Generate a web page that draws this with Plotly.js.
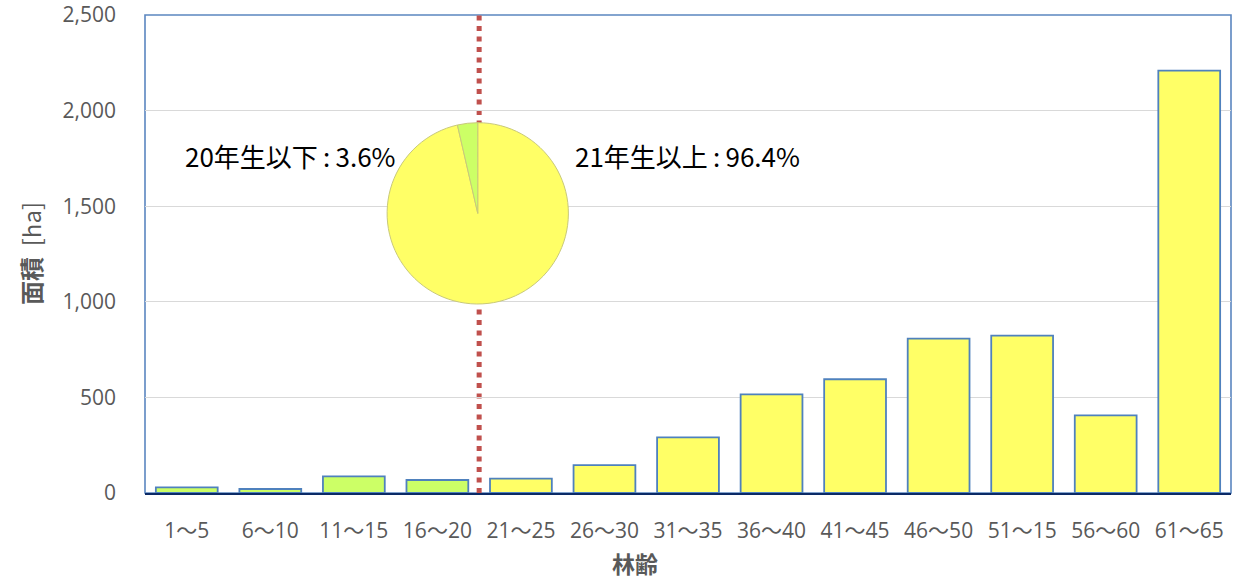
<!DOCTYPE html>
<html>
<head>
<meta charset="utf-8">
<script src="https://cdn.plot.ly/plotly-3.0.1.min.js"></script>
<style>
  html, body { margin: 0; padding: 0; background: #ffffff; }
  #chart { width: 1236px; height: 580px; }
</style>
</head>
<body>
<div id="chart"></div>
<script>
// 林齢別の面積 [ha]
const ageClasses = ['1～5', '6～10', '11～15', '16～20', '21～25', '26～30', '31～35',
                    '36～40', '41～45', '46～50', '51～15', '56～60', '61～65'];
const areaHa = [29, 21, 87, 68, 75, 146, 291, 516, 595, 807, 823, 406, 2209];

// 20年生以下の階級数（先頭から）
const youngClassCount = 4;

// 円グラフ：構成比 [%]
const shareLabels = ['21年生以上', '20年生以下'];
const shareValues = [96.4, 3.6];

const yTicks = [0, 500, 1000, 1500, 2000, 2500];

const YELLOW = '#FFFF66';
const GREEN = '#CCFF66';
const TICK_FONT = '"Open Sans", "Noto Sans CJK JP", sans-serif';
const CJK_FONT = '"Noto Sans CJK JP", "Noto Sans", sans-serif';

const barColors = ageClasses.map((_, i) => i < youngClassCount ? GREEN : YELLOW);

const bars = {
  type: 'bar',
  x: ageClasses,
  y: areaHa,
  marker: { color: barColors, line: { color: '#4F81BD', width: 1.8 } },
  hoverinfo: 'x+y',
  showlegend: false
};

const pie = {
  type: 'pie',
  labels: shareLabels,
  values: shareValues,
  sort: false,
  direction: 'clockwise',
  rotation: 0,
  textinfo: 'none',
  marker: { colors: [YELLOW, GREEN], line: { color: '#C9C97A', width: 1 } },
  domain: { x: [0.2226, 0.3902], y: [0.3954, 0.7747] },
  showlegend: false
};

// 構成比ラベル（例：20年生以下 : 3.6%）
const shareText = i => shareLabels[i] + '\u2009:\u2009' + shareValues[i] + '%';

const layout = {
  width: 1236,
  height: 580,
  margin: { l: 145, r: 5, t: 15, b: 87 },
  paper_bgcolor: '#ffffff',
  plot_bgcolor: '#ffffff',
  font: { family: TICK_FONT, color: '#595959', size: 21 },
  bargap: 0.26,
  xaxis: {
    type: 'category',
    showline: true,
    linecolor: '#0B2A66',
    linewidth: 2,
    showgrid: false,
    ticks: '',
    ticklabelstandoff: 18,
    tickfont: { family: TICK_FONT, size: 21, color: '#595959' },
    fixedrange: true
  },
  yaxis: {
    range: [0, 2500],
    tickvals: yTicks,
    ticktext: yTicks.map(v => v.toLocaleString('en-US')),
    showline: false,
    showgrid: true,
    gridcolor: '#D9D9D9',
    gridwidth: 1.3,
    zeroline: false,
    ticks: '',
    ticklabelstandoff: 28,
    tickfont: { family: TICK_FONT, size: 21, color: '#595959' },
    fixedrange: true
  },
  shapes: [
    // 枠線（上・左・右）
    { type: 'rect', xref: 'paper', yref: 'paper', x0: 0, x1: 1, y0: 0, y1: 1,
      line: { color: '#5B86C0', width: 1.6 }, layer: 'below' },
    // 20年生以下と21年生以上の境界
    { type: 'line', xref: 'x', yref: 'paper',
      x0: youngClassCount - 0.5, x1: youngClassCount - 0.5, y0: 0, y1: 1,
      line: { color: '#C0504D', width: 5, dash: '5px,5.5px' }, layer: 'below' }
  ],
  annotations: [
    { xref: 'paper', yref: 'paper', x: (183 - 145) / 1086, y: (493 - 155) / 478,
      xanchor: 'left', yanchor: 'middle', showarrow: false,
      text: shareText(1),
      font: { family: CJK_FONT, size: 26, color: '#000000' } },
    { xref: 'paper', yref: 'paper', x: (573 - 145) / 1086, y: (493 - 155) / 478,
      xanchor: 'left', yanchor: 'middle', showarrow: false,
      text: shareText(0),
      font: { family: CJK_FONT, size: 26, color: '#000000' } },
    { xref: 'paper', yref: 'paper', x: (635 - 145) / 1086, y: -(563 - 493) / 478,
      xanchor: 'center', yanchor: 'middle', showarrow: false, borderpad: 0,
      text: '<b>林齢</b>',
      font: { family: CJK_FONT, size: 23, color: '#595959' } },
    { xref: 'paper', yref: 'paper', x: -(145 - 30) / 1086, y: 0.5,
      xanchor: 'center', yanchor: 'middle', showarrow: false, textangle: -90,
      text: '<b>面積</b>  [ha]',
      font: { family: CJK_FONT, size: 24, color: '#595959' } }
  ]
};

Plotly.newPlot('chart', [bars, pie], layout, { displayModeBar: false, staticPlot: true });
</script>
</body>
</html>
